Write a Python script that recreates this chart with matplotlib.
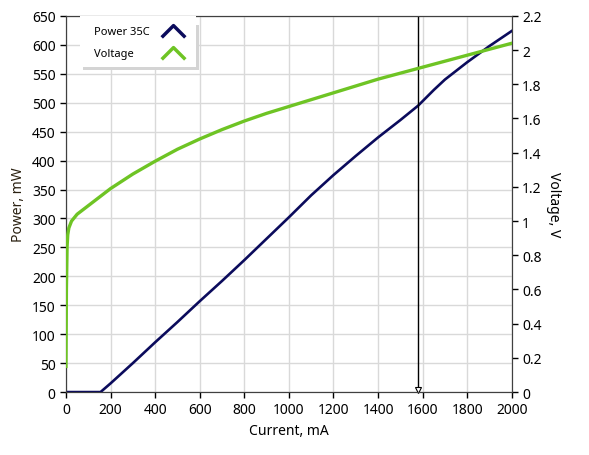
import matplotlib
matplotlib.use("Agg")
import matplotlib.pyplot as plt
from matplotlib.path import Path
from matplotlib.patches import Rectangle

plt.rcParams['font.family'] = ['Noto Sans', 'DejaVu Sans']

# --- data ---
power_current = [0, 100, 155, 200, 300, 400, 500, 600, 700, 800, 900, 1000,
                 1100, 1200, 1300, 1400, 1500, 1580, 1650, 1700, 1800, 1900, 2000]
power_mw = [0, 0, 0, 15, 50, 86, 121, 157, 192, 228, 265, 302,
            340, 375, 408, 440, 470, 495, 522, 540, 570, 598, 624]

volt_current = [0, 2, 5, 8, 13, 25, 50, 100, 200, 300, 400, 500, 600, 700, 800,
                900, 1000, 1100, 1200, 1300, 1400, 1500, 1600, 1700, 1800, 1900, 2000]
voltage_v = [0.15, 0.6, 0.85, 0.92, 0.96, 1.0, 1.04, 1.09, 1.19, 1.275, 1.35, 1.42,
             1.48, 1.535, 1.585, 1.63, 1.67, 1.71, 1.75, 1.79, 1.83, 1.865, 1.90,
             1.935, 1.97, 2.005, 2.04]

series_names = ["Power 35C", "Voltage"]
cursor_ma = 1580

navy = "#0b0b5c"
green = "#6ec424"

fig = plt.figure(figsize=(5.89, 4.56), dpi=100)
ax = fig.add_axes([0.112, 0.138, 0.757, 0.825])
ax2 = ax.twinx()

ax.set_xlim(0, 2000)
ax.set_ylim(0, 650)
ax2.set_ylim(0, 2.2)
ax.set_xticks(range(0, 2001, 200))
ax.set_yticks(range(0, 651, 50))
ax2.set_yticks([i * 0.2 for i in range(12)])
ax2.set_yticklabels(["0"] + [f"{i * 0.2:g}" for i in range(1, 12)])

ax.grid(True, color="#d9d9d9", lw=1)
ax.set_axisbelow(True)

ax.plot(power_current, power_mw, color=navy, lw=1.9, zorder=3)
ax2.plot(volt_current, voltage_v, color=green, lw=2.4, zorder=3)

# cursor
ax.axvline(cursor_ma, color="black", lw=1, zorder=4)
ax.plot([cursor_ma], [4], marker="v", ms=5, mfc="white", mec="black", mew=0.8,
        clip_on=False, zorder=5)

for a in (ax, ax2):
    for s in a.spines.values():
        s.set_color("#404040")
    a.tick_params(direction="out", length=4, width=1, labelsize=10, colors="black")

ax.set_xlabel("Current, mA", fontsize=10)
ax.set_ylabel("Power, mW", fontsize=10, color="#2a2010")
ax2.set_ylabel("Voltage, V", fontsize=10, rotation=270, labelpad=14)

# --- legend box drawn by hand (left-aligned text, chevron icons on the right) ---
def axfrac(px, py):
    return (px - 66) / 446, (393 - py) / 376

x0, y0 = axfrac(80, 68)
x1, y1 = axfrac(196, 17)
sx, sy = axfrac(83, 71)
ax2.add_patch(Rectangle((sx, sy), x1 - x0, y1 - y0 - 0.016, transform=ax.transAxes,
                        facecolor="#d4d4d4", edgecolor="none", zorder=9, clip_on=False))
ax2.add_patch(Rectangle((x0, y0), x1 - x0, y1 - y0, transform=ax.transAxes,
                        facecolor="white", edgecolor="none", zorder=10, clip_on=False))

chevron = Path([(-1, -0.5), (0, 0.5), (1, -0.5)],
               [Path.MOVETO, Path.LINETO, Path.LINETO])
for i, (name, col) in enumerate(zip(series_names, [navy, green])):
    ty = 33 + 22 * i
    tx, tyf = axfrac(94, ty)
    ax2.text(tx, tyf, name, transform=ax.transAxes, fontsize=8, va="center",
             ha="left", zorder=11)
    cx, cy = axfrac(173.5, ty - 1)
    ax2.plot([cx], [cy], transform=ax.transAxes, ls="none", marker=chevron,
             ms=17, mfc="none", mec=col, mew=2.5, zorder=11, clip_on=False)

fig.savefig("out.png", dpi=100)
